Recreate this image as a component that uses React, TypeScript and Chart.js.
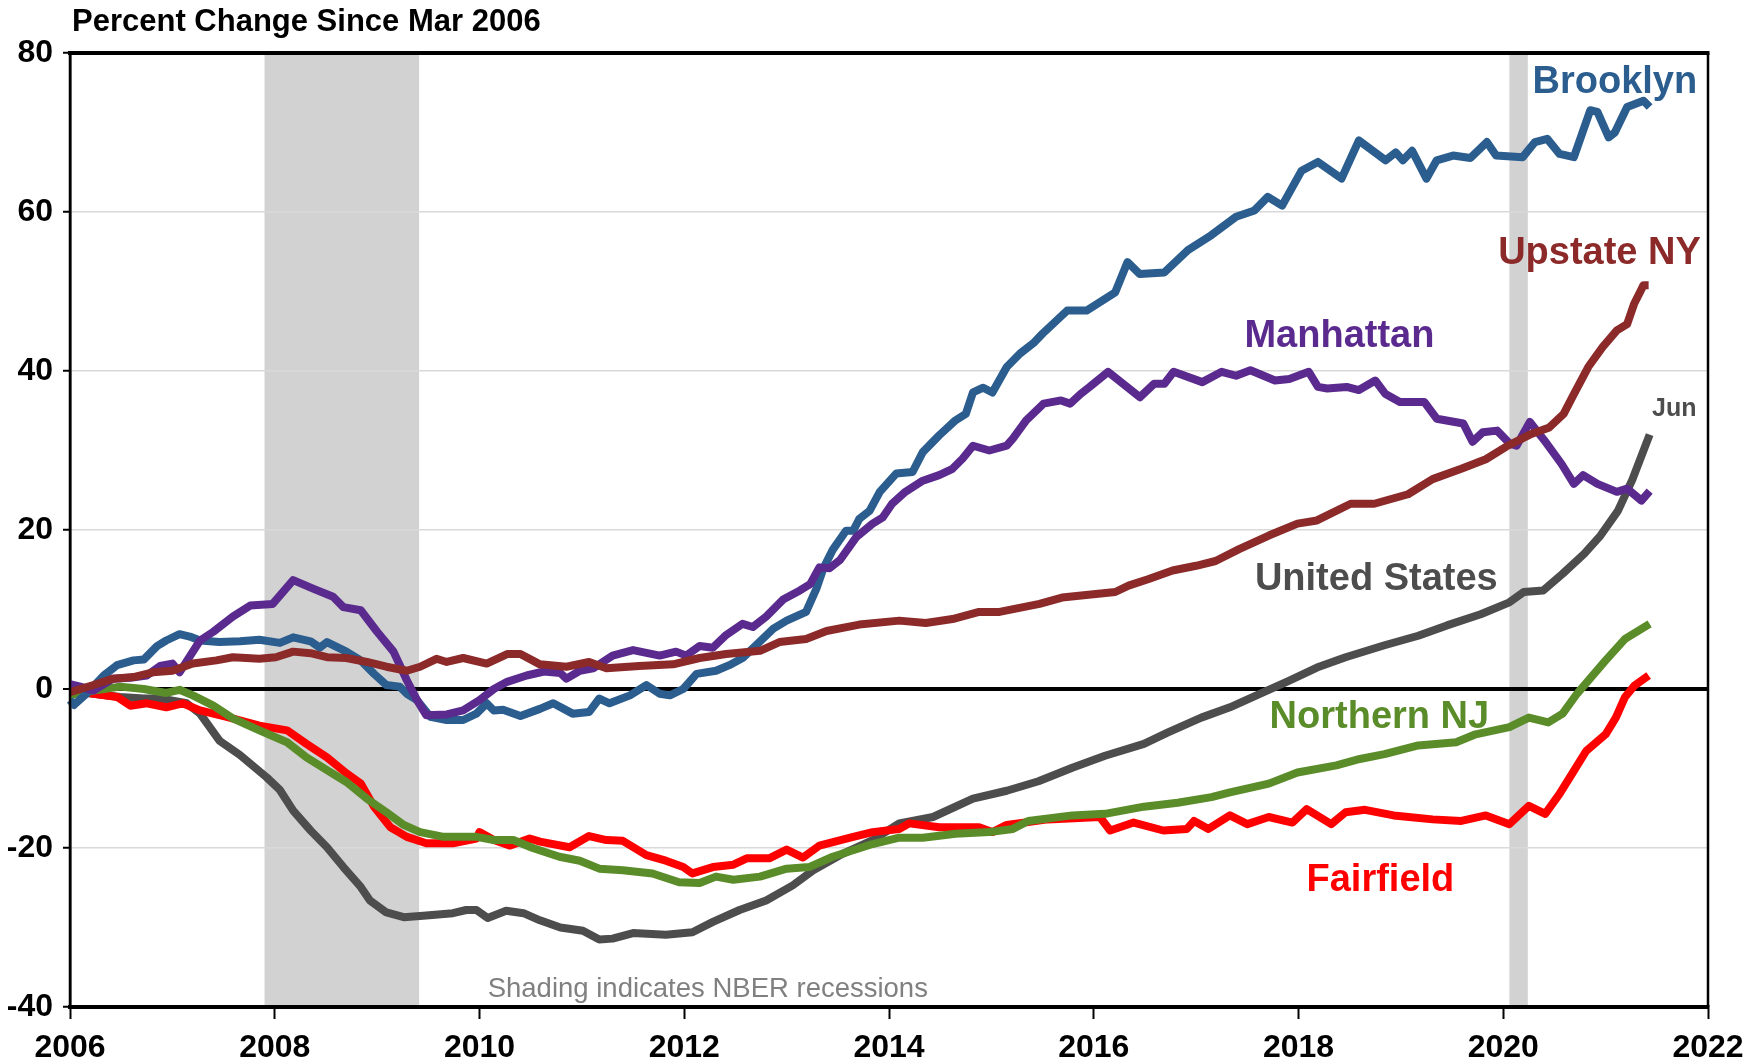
import React, { useEffect, useRef } from 'react';
import { Chart, registerables } from 'chart.js';

Chart.register(...registerables);

// ---------------- DATA (decimal years, percent change since Mar 2006) ----------------
const brooklynYears = [2006.00, 2006.04, 2006.16, 2006.33, 2006.46, 2006.62, 2006.72, 2006.85, 2006.94, 2007.07, 2007.17, 2007.27, 2007.46, 2007.66, 2007.85, 2008.05, 2008.18, 2008.35, 2008.44, 2008.51, 2008.70, 2008.84, 2008.97, 2009.09, 2009.22, 2009.29, 2009.39, 2009.52, 2009.68, 2009.84, 2009.97, 2010.07, 2010.14, 2010.23, 2010.40, 2010.59, 2010.72, 2010.91, 2011.07, 2011.17, 2011.27, 2011.47, 2011.63, 2011.76, 2011.86, 2011.99, 2012.12, 2012.31, 2012.44, 2012.57, 2012.70, 2012.87, 2013.00, 2013.19, 2013.29, 2013.36, 2013.45, 2013.58, 2013.65, 2013.71, 2013.81, 2013.91, 2014.07, 2014.23, 2014.33, 2014.49, 2014.65, 2014.75, 2014.82, 2014.92, 2015.01, 2015.15, 2015.28, 2015.41, 2015.50, 2015.74, 2015.93, 2016.21, 2016.33, 2016.45, 2016.69, 2016.92, 2017.15, 2017.39, 2017.57, 2017.70, 2017.84, 2018.03, 2018.19, 2018.42, 2018.59, 2018.85, 2018.95, 2019.02, 2019.11, 2019.25, 2019.35, 2019.51, 2019.68, 2019.84, 2019.93, 2020.19, 2020.31, 2020.43, 2020.55, 2020.69, 2020.85, 2020.92, 2021.03, 2021.09, 2021.21, 2021.37, 2021.43];
const brooklynValues = [-1.4, -2.0, -0.6, 1.7, 3.0, 3.6, 3.7, 5.4, 6.1, 6.9, 6.6, 6.1, 5.9, 6.0, 6.2, 5.8, 6.5, 6.0, 5.2, 5.9, 4.7, 3.6, 1.9, 0.5, 0.3, -0.6, -1.4, -3.5, -3.9, -3.9, -3.1, -1.8, -2.7, -2.6, -3.4, -2.5, -1.8, -3.1, -2.9, -1.2, -1.8, -0.8, 0.5, -0.6, -0.8, 0.0, 1.9, 2.3, 3.0, 3.9, 5.5, 7.6, 8.6, 9.7, 12.6, 15.2, 17.5, 19.9, 19.9, 21.4, 22.4, 24.8, 27.1, 27.3, 29.8, 31.9, 33.8, 34.6, 37.3, 37.9, 37.3, 40.5, 42.2, 43.5, 44.7, 47.6, 47.6, 49.9, 53.7, 52.2, 52.4, 55.2, 57.1, 59.4, 60.2, 61.9, 60.8, 65.2, 66.3, 64.2, 69.0, 66.5, 67.5, 66.5, 67.7, 64.2, 66.5, 67.1, 66.8, 68.8, 67.1, 66.9, 68.8, 69.2, 67.3, 66.9, 72.8, 72.6, 69.4, 70.0, 73.2, 74.0, 73.2];

const upstateYears = [2006.00, 2006.23, 2006.42, 2006.62, 2006.81, 2007.00, 2007.20, 2007.43, 2007.59, 2007.85, 2008.01, 2008.18, 2008.35, 2008.51, 2008.70, 2008.90, 2009.09, 2009.29, 2009.42, 2009.58, 2009.68, 2009.84, 2010.07, 2010.27, 2010.40, 2010.59, 2010.85, 2011.07, 2011.24, 2011.56, 2011.89, 2012.15, 2012.41, 2012.74, 2012.93, 2013.19, 2013.39, 2013.71, 2014.10, 2014.36, 2014.62, 2014.88, 2015.08, 2015.47, 2015.69, 2016.21, 2016.34, 2016.53, 2016.77, 2017.00, 2017.19, 2017.42, 2017.71, 2017.99, 2018.18, 2018.51, 2018.74, 2019.07, 2019.31, 2019.59, 2019.83, 2020.03, 2020.26, 2020.45, 2020.59, 2020.69, 2020.83, 2020.97, 2021.11, 2021.21, 2021.28, 2021.37, 2021.42];
const upstateValues = [-0.4, 0.5, 1.3, 1.5, 2.1, 2.3, 3.2, 3.6, 4.0, 3.8, 4.0, 4.7, 4.5, 4.0, 3.9, 3.4, 2.8, 2.3, 2.8, 3.8, 3.4, 3.9, 3.2, 4.4, 4.4, 3.1, 2.8, 3.4, 2.6, 2.9, 3.1, 3.9, 4.4, 4.8, 5.9, 6.3, 7.3, 8.1, 8.6, 8.3, 8.8, 9.7, 9.7, 10.7, 11.5, 12.2, 13.0, 13.8, 14.9, 15.5, 16.1, 17.6, 19.3, 20.8, 21.2, 23.3, 23.3, 24.5, 26.4, 27.7, 28.9, 30.5, 32.0, 32.9, 34.6, 37.1, 40.5, 43.0, 45.1, 45.9, 48.5, 50.8, 50.8];

const manhattanYears = [2006.00, 2006.10, 2006.23, 2006.42, 2006.59, 2006.75, 2006.88, 2007.00, 2007.07, 2007.27, 2007.40, 2007.59, 2007.76, 2007.98, 2008.18, 2008.38, 2008.57, 2008.67, 2008.84, 2009.00, 2009.16, 2009.29, 2009.39, 2009.48, 2009.68, 2009.84, 2010.00, 2010.14, 2010.27, 2010.46, 2010.63, 2010.79, 2010.85, 2010.98, 2011.11, 2011.30, 2011.50, 2011.76, 2011.92, 2012.02, 2012.15, 2012.28, 2012.41, 2012.57, 2012.67, 2012.80, 2012.97, 2013.13, 2013.23, 2013.32, 2013.42, 2013.52, 2013.68, 2013.84, 2013.94, 2014.03, 2014.16, 2014.33, 2014.49, 2014.62, 2014.72, 2014.82, 2014.98, 2015.15, 2015.21, 2015.34, 2015.51, 2015.68, 2015.77, 2015.87, 2015.96, 2016.14, 2016.45, 2016.59, 2016.69, 2016.78, 2017.06, 2017.25, 2017.39, 2017.53, 2017.77, 2017.91, 2018.10, 2018.19, 2018.28, 2018.47, 2018.59, 2018.75, 2018.85, 2018.99, 2019.23, 2019.35, 2019.61, 2019.70, 2019.80, 2019.94, 2020.06, 2020.13, 2020.26, 2020.40, 2020.57, 2020.69, 2020.78, 2020.92, 2021.11, 2021.21, 2021.35, 2021.43];
const manhattanValues = [0.6, 0.3, -0.2, 1.3, 1.4, 1.7, 2.9, 3.2, 2.1, 6.1, 7.2, 9.1, 10.5, 10.7, 13.7, 12.6, 11.6, 10.3, 9.9, 7.2, 4.7, 1.1, -1.4, -3.3, -3.2, -2.7, -1.4, 0.0, 0.9, 1.7, 2.2, 2.0, 1.3, 2.3, 2.6, 4.2, 4.9, 4.2, 4.7, 4.2, 5.4, 5.2, 6.8, 8.2, 7.8, 9.1, 11.3, 12.4, 13.2, 15.3, 15.2, 16.2, 19.1, 20.8, 21.6, 23.3, 24.8, 26.2, 26.9, 27.7, 29.0, 30.6, 30.0, 30.6, 31.5, 33.8, 35.9, 36.3, 35.9, 37.1, 38.0, 39.9, 36.7, 38.4, 38.4, 39.9, 38.6, 39.9, 39.4, 40.1, 38.8, 39.0, 39.9, 38.0, 37.8, 38.0, 37.6, 38.8, 37.1, 36.1, 36.1, 34.0, 33.4, 31.1, 32.3, 32.5, 30.9, 30.6, 33.6, 31.3, 28.3, 25.8, 26.9, 25.8, 24.8, 25.2, 23.7, 24.9];

const usYears = [2006.00, 2006.23, 2006.49, 2006.72, 2006.88, 2007.14, 2007.27, 2007.46, 2007.66, 2007.92, 2008.05, 2008.18, 2008.35, 2008.51, 2008.67, 2008.84, 2008.93, 2009.09, 2009.26, 2009.48, 2009.74, 2009.87, 2009.97, 2010.08, 2010.26, 2010.43, 2010.59, 2010.79, 2011.01, 2011.17, 2011.30, 2011.50, 2011.82, 2012.08, 2012.28, 2012.54, 2012.80, 2013.06, 2013.26, 2013.52, 2013.84, 2014.10, 2014.43, 2014.82, 2015.15, 2015.46, 2015.79, 2016.11, 2016.49, 2016.72, 2017.05, 2017.33, 2017.66, 2017.90, 2018.18, 2018.46, 2018.84, 2019.17, 2019.45, 2019.78, 2020.06, 2020.20, 2020.39, 2020.58, 2020.79, 2020.95, 2021.12, 2021.26, 2021.43];
const usValues = [-0.3, -0.6, -1.0, -1.2, -1.2, -1.8, -3.1, -6.5, -8.3, -11.1, -12.7, -15.3, -17.8, -19.9, -22.4, -24.9, -26.6, -28.1, -28.7, -28.5, -28.2, -27.8, -27.8, -28.8, -27.9, -28.2, -29.1, -30.0, -30.4, -31.5, -31.4, -30.7, -30.9, -30.6, -29.3, -27.8, -26.6, -24.7, -22.8, -20.9, -19.0, -16.9, -16.1, -13.8, -12.8, -11.6, -9.9, -8.4, -6.9, -5.5, -3.6, -2.3, -0.4, 1.0, 2.7, 4.0, 5.5, 6.7, 8.0, 9.4, 10.9, 12.2, 12.4, 14.5, 17.0, 19.3, 22.4, 26.3, 32.0];

const njYears = [2006.00, 2006.23, 2006.49, 2006.72, 2006.94, 2007.07, 2007.20, 2007.40, 2007.59, 2007.85, 2008.12, 2008.31, 2008.51, 2008.70, 2008.90, 2009.09, 2009.26, 2009.42, 2009.65, 2009.97, 2010.14, 2010.33, 2010.52, 2010.78, 2010.98, 2011.17, 2011.40, 2011.69, 2011.95, 2012.15, 2012.31, 2012.48, 2012.74, 2013.00, 2013.22, 2013.45, 2013.84, 2014.10, 2014.33, 2014.65, 2014.98, 2015.21, 2015.36, 2015.79, 2016.11, 2016.49, 2016.82, 2017.15, 2017.33, 2017.71, 2017.99, 2018.37, 2018.60, 2018.84, 2019.17, 2019.54, 2019.73, 2020.06, 2020.25, 2020.44, 2020.58, 2020.72, 2020.86, 2021.00, 2021.19, 2021.43];
const njValues = [-0.8, -0.2, 0.3, 0.0, -0.5, -0.1, -0.8, -2.1, -3.7, -5.2, -6.7, -8.6, -10.2, -11.7, -13.8, -15.5, -17.1, -18.0, -18.6, -18.6, -19.0, -19.0, -20.0, -21.1, -21.6, -22.6, -22.8, -23.2, -24.3, -24.4, -23.6, -24.0, -23.6, -22.6, -22.4, -21.1, -19.5, -18.7, -18.7, -18.2, -18.0, -17.6, -16.6, -15.9, -15.7, -14.8, -14.3, -13.6, -13.0, -11.9, -10.5, -9.6, -8.8, -8.2, -7.1, -6.7, -5.7, -4.8, -3.6, -4.2, -3.1, -0.6, 1.5, 3.6, 6.3, 8.2];

const fairfieldYears = [2006.00, 2006.23, 2006.46, 2006.59, 2006.75, 2006.94, 2007.10, 2007.27, 2007.53, 2007.85, 2008.12, 2008.31, 2008.51, 2008.70, 2008.84, 2008.97, 2009.13, 2009.29, 2009.48, 2009.74, 2009.97, 2010.00, 2010.14, 2010.30, 2010.49, 2010.59, 2010.88, 2011.07, 2011.24, 2011.40, 2011.63, 2011.82, 2011.99, 2012.08, 2012.28, 2012.48, 2012.61, 2012.83, 2013.00, 2013.16, 2013.32, 2013.65, 2013.84, 2014.10, 2014.20, 2014.49, 2014.88, 2015.01, 2015.15, 2015.55, 2016.06, 2016.16, 2016.39, 2016.68, 2016.91, 2016.98, 2017.12, 2017.33, 2017.50, 2017.71, 2017.94, 2018.08, 2018.32, 2018.46, 2018.65, 2018.93, 2019.31, 2019.59, 2019.83, 2020.06, 2020.25, 2020.41, 2020.55, 2020.67, 2020.81, 2021.00, 2021.10, 2021.19, 2021.28, 2021.42];
const fairfieldValues = [0.0, -0.6, -1.0, -2.1, -1.8, -2.3, -1.8, -2.7, -3.5, -4.6, -5.2, -6.9, -8.6, -10.6, -11.9, -14.8, -17.4, -18.6, -19.4, -19.4, -18.8, -18.0, -19.0, -19.7, -18.8, -19.2, -19.9, -18.5, -19.0, -19.1, -20.9, -21.6, -22.4, -23.2, -22.4, -22.1, -21.3, -21.3, -20.2, -21.2, -19.7, -18.6, -18.0, -17.6, -16.9, -17.4, -17.4, -18.0, -17.1, -16.4, -16.1, -17.8, -16.8, -17.8, -17.6, -16.6, -17.6, -15.9, -17.0, -16.1, -16.8, -15.1, -17.0, -15.5, -15.2, -15.9, -16.4, -16.6, -15.9, -17.0, -14.7, -15.7, -13.2, -10.7, -7.8, -5.7, -3.6, -1.0, 0.4, 1.7];

// NBER recessions (start, end) in decimal years
const recessionStarts = [2007.9, 2020.06];
const recessionEnds = [2009.41, 2020.24];

const seriesNames = ['Upstate NY', 'Manhattan', 'Brooklyn', 'Northern NJ', 'Fairfield', 'United States'];

// ---------------- STYLE ----------------
const FONT = "'Liberation Sans', Arial, Helvetica, sans-serif";
const COLORS: Record<string, string> = {
  'Brooklyn': '#2b5d8f',
  'Upstate NY': '#8c2a2a',
  'Manhattan': '#5b2a8e',
  'United States': '#4d4d4d',
  'Northern NJ': '#5b8c2a',
  'Fairfield': '#ff0000',
};

// label anchors in data coordinates (year, percent)
const LABELS = [
  { text: 'Brooklyn', x: 2021.09, y: 76.3, color: COLORS['Brooklyn'], size: 38 },
  { text: 'Upstate NY', x: 2020.94, y: 54.8, color: COLORS['Upstate NY'], size: 38 },
  { text: 'Manhattan', x: 2018.4, y: 44.4, color: COLORS['Manhattan'], size: 38 },
  { text: 'United States', x: 2018.76, y: 13.8, color: COLORS['United States'], size: 38 },
  { text: 'Northern NJ', x: 2018.79, y: -3.6, color: COLORS['Northern NJ'], size: 38 },
  { text: 'Fairfield', x: 2018.8, y: -24.1, color: COLORS['Fairfield'], size: 38 },
  { text: 'Jun', x: 2021.67, y: 35.2, color: '#4d4d4d', size: 25 },
];

function pts(xs: number[], ys: number[]) {
  return xs.map((x, i) => ({ x, y: ys[i] }));
}

const seriesData: Record<string, { x: number; y: number }[]> = {
  'Brooklyn': pts(brooklynYears, brooklynValues),
  'Upstate NY': pts(upstateYears, upstateValues),
  'Manhattan': pts(manhattanYears, manhattanValues),
  'United States': pts(usYears, usValues),
  'Northern NJ': pts(njYears, njValues),
  'Fairfield': pts(fairfieldYears, fairfieldValues),
};

const decorPlugin = {
  id: 'decor',
  beforeDraw(chart: any) {
    const { ctx, chartArea, scales } = chart;
    ctx.save();
    ctx.fillStyle = '#d2d2d2';
    recessionStarts.forEach((s, i) => {
      const x0 = scales.x.getPixelForValue(s);
      const x1 = scales.x.getPixelForValue(recessionEnds[i]);
      ctx.fillRect(x0, chartArea.top, x1 - x0, chartArea.bottom - chartArea.top);
    });
    ctx.restore();
  },
  afterDatasetsDraw(chart: any) {
    const { ctx, chartArea, scales } = chart;
    ctx.save();
    // frame
    ctx.strokeStyle = '#000';
    ctx.lineWidth = 4;
    ctx.beginPath();
    ctx.moveTo(chartArea.left - 2, chartArea.top);
    ctx.lineTo(chartArea.right + 1.5, chartArea.top);
    ctx.stroke();
    ctx.beginPath();
    ctx.moveTo(chartArea.left - 2, chartArea.bottom);
    ctx.lineTo(chartArea.right + 1.5, chartArea.bottom);
    ctx.stroke();
    ctx.lineWidth = 2.5;
    ctx.beginPath();
    ctx.moveTo(chartArea.left, chartArea.top);
    ctx.lineTo(chartArea.left, chartArea.bottom);
    ctx.moveTo(chartArea.right, chartArea.top);
    ctx.lineTo(chartArea.right, chartArea.bottom);
    ctx.stroke();

    // series labels
    ctx.textAlign = 'center';
    ctx.textBaseline = 'middle';
    LABELS.forEach((l) => {
      ctx.font = `bold ${l.size}px ${FONT}`;
      ctx.fillStyle = l.color;
      ctx.fillText(l.text, scales.x.getPixelForValue(l.x), scales.y.getPixelForValue(l.y));
    });

    // footnote
    ctx.font = `27.5px ${FONT}`;
    ctx.fillStyle = '#808080';
    ctx.textAlign = 'left';
    ctx.textBaseline = 'alphabetic';
    ctx.fillText('Shading indicates NBER recessions', scales.x.getPixelForValue(2010.08), scales.y.getPixelForValue(-38.75));

    // title
    ctx.font = `bold 31px ${FONT}`;
    ctx.fillStyle = '#000';
    ctx.fillText('Percent Change Since Mar 2006', chartArea.left + 2, 31);
    ctx.restore();
  },
};

export default function App() {
  const ref = useRef<HTMLCanvasElement>(null);
  useEffect(() => {
    if (!ref.current) return;
    const chart = new Chart(ref.current, {
      type: 'line',
      data: {
        datasets: seriesNames.map((name, i) => ({
          label: name,
          data: seriesData[name],
          borderColor: COLORS[name],
          backgroundColor: COLORS[name],
          borderWidth: 8,
          pointRadius: 0,
          tension: 0,
          borderJoinStyle: 'round' as const,
          borderCapStyle: 'butt' as const,
          order: i,
          clip: 6,
        })),
      },
      options: {
        responsive: false,
        animation: false,
        devicePixelRatio: 1,
        parsing: true,
        layout: { padding: { left: 0, right: 48, top: 53, bottom: 0 } },
        plugins: {
          legend: { display: false },
          tooltip: { enabled: false },
          title: { display: false },
        },
        scales: {
          x: {
            type: 'linear',
            min: 2006,
            max: 2022,
            afterFit: (s: any) => { s.height = 56; },
            ticks: {
              stepSize: 2,
              autoSkip: false,
              maxRotation: 0,
              padding: 10,
              color: '#000',
              font: { family: FONT, size: 32, weight: 'bold' },
              callback: (v: any) => String(v),
            },
            grid: {
              display: true,
              drawOnChartArea: false,
              drawTicks: true,
              tickLength: 12,
              tickColor: '#000',
              tickWidth: 2,
            },
            border: { display: true, color: '#000', width: 4 },
          },
          y: {
            type: 'linear',
            min: -40,
            max: 80,
            afterFit: (s: any) => { s.width = 70; },
            ticks: {
              stepSize: 20,
              padding: 10,
              color: '#000',
              font: { family: FONT, size: 32, weight: 'bold' },
              callback: (v: any) => String(v),
            },
            grid: {
              color: (c: any) => (c.tick && c.tick.value === 0 ? '#000' : '#d9d9d9'),
              lineWidth: (c: any) => (c.tick && c.tick.value === 0 ? 4 : 1.5),
              drawTicks: true,
              tickLength: 7,
              tickColor: '#000',
              tickWidth: 2,
            },
            border: { display: true, color: '#000', width: 2.5 },
          },
        },
      },
      plugins: [decorPlugin],
    } as any);
    return () => chart.destroy();
  }, []);
  return (
    <div style={{ position: 'fixed', left: 0, top: 0, width: 1756, height: 1063, background: '#fff' }}>
      <canvas ref={ref} width={1756} height={1063} style={{ display: 'block', width: 1756, height: 1063 }} />
    </div>
  );
}
